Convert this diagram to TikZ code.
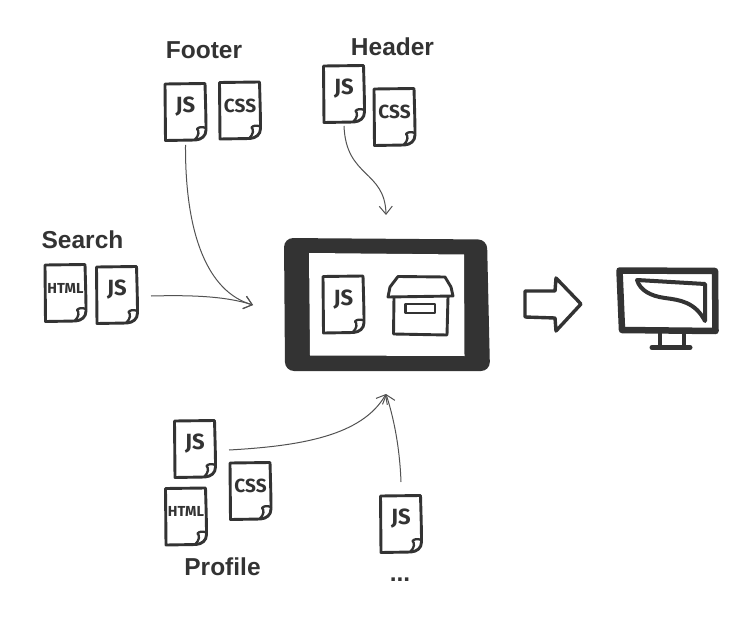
\documentclass[tikz,border=0pt]{standalone}
\usepackage{fontspec}
\setmainfont{Liberation Sans}
\newfontfamily\handfont{Fira Sans}
\usetikzlibrary{arrows.meta}
\definecolor{ink}{HTML}{333333}
\newcommand{\jsfont}{\handfont\bfseries\fontsize{22}{22}\selectfont}
\newcommand{\cssfont}{\handfont\bfseries\fontsize{19}{19}\selectfont}
\newcommand{\htmlfont}{\handfont\bfseries\fontsize{14.5}{14.5}\selectfont}
\tikzset{
  x=1pt,y=-1pt,
  ink line/.style={draw=ink,line width=2.9pt,line cap=round,line join=round},
  flow/.style={draw=ink!85,line width=1pt,-{Straight Barb[length=8pt,width=13pt,line width=1pt]}},
  title/.style={font=\bfseries\fontsize{24.5}{27}\selectfont,text=ink,inner sep=0pt},
  docbody/.style={minimum width=42pt,minimum height=58pt,inner sep=0pt,outer sep=0pt},
  doc/.pic={
    \path[ink line,fill=white] (-20.5,-28) -- (19.5,-28.5) .. controls (20,-10) and (20.5,5) .. (20.5,18)
       .. controls (20.5,24) and (16,27.5) .. (10,28) -- (-20,28.5) -- cycle;
    \path[ink line,line width=2.3pt] (20.5,16) .. controls (16.5,14.5) and (13,15) .. (11.5,17)
       .. controls (14,19) and (13.5,24) .. (9,28);
    \node[docbody,text=ink] (-body) at (0,-5) {\tikzpictext};
  },
}
\begin{document}
\begin{tikzpicture}
\useasboundingbox (0,0) rectangle (754,620);
% documents
\pic[pic text={\jsfont JS}] (footerjs) at (185.5,112) {doc};
\pic[pic text={\cssfont CSS}] (footercss) at (240,110.5) {doc};
\pic[pic text={\jsfont JS}] (headerjs) at (344,94) {doc};
\pic[pic text={\cssfont CSS}] (headercss) at (394.5,117) {doc};
\pic[pic text={\htmlfont HTML}] (searchhtml) at (65.5,293) {doc};
\pic[pic text={\jsfont JS}] (searchjs) at (117,295) {doc};
\pic[pic text={\jsfont JS}] (profilejs) at (195,449) {doc};
\pic[pic text={\cssfont CSS}] (profilecss) at (250.5,491) {doc};
\pic[pic text={\htmlfont HTML}] (profilehtml) at (186,516.5) {doc};
\pic[pic text={\jsfont JS}] (morejs) at (401,524) {doc};
% titles
\node[title] (footertitle) at (204,50) {Footer};
\node[title] (headertitle) at (392.5,47) {Header};
\node[title] (searchtitle) at (82.5,240) {Search};
\node[title] (profiletitle) at (222.5,567) {Profile};
\node[title] (moretitle) at (400,580) {...};
% tablet
\fill[ink,rounded corners=9pt] (284,238) -- (487,239.5) -- (490,371) -- (285,371) -- cycle;
\fill[white] (309,253) -- (464,254.5) -- (464.5,356) -- (310,355.5) -- cycle;
\pic[pic text={\jsfont JS}] (tabletjs) at (343.5,304.5) {doc};
% archive box
\path[ink line,fill=white] (394,297) -- (393.5,334) -- (447,335) -- (448,297);
\path[ink line,fill=white] (388,297) -- (390,287) -- (398,276.5) -- (445,277) -- (451,287) -- (453,296) -- cycle;
\path[ink line] (405.5,304) -- (435,304) -- (435,313) -- (405.5,313) -- cycle;
% big arrow
\path[ink line,line width=3.4pt,fill=white] (525,291) -- (555,291) -- (556,278) -- (581,304) -- (556,331) -- (555,318) -- (525,317) -- cycle;
% monitor
\path[ink line,line width=6.5pt] (619.5,270.5) -- (715,271) -- (715.5,331) -- (622,330) -- cycle;
\path[ink line,line width=4pt] (637,280) -- (705,284) -- (705,321) .. controls (695,302) and (680,300) .. (665,298) .. controls (650,296) and (640,290) .. cycle;
\path[ink line,line width=4pt] (660,333) -- (660,347) (684,333) -- (684,347);
\path[ink line,line width=5pt] (652,347.5) -- (690,347.5);
% connector ends
\coordinate (leftin) at (253,305);
\coordinate (topin) at (386,215);
\coordinate (bottomin) at (386,394);
\draw[flow] ([yshift=-9pt]footerjs-body.south) .. controls (185,235) and (208,292) .. (leftin);
\draw[flow] ([xshift=13pt,yshift=-6pt]searchjs-body.east) .. controls (190,295) and (225,296) .. (leftin);
\draw[flow] ([yshift=-8pt]headerjs-body.south) .. controls (346,178) and (385,170) .. (topin);
\draw[flow] ([xshift=13pt,yshift=-6pt]profilejs-body.east) .. controls (300,446) and (362,436) .. (bottomin);
\draw[flow] ([yshift=8pt]morejs-body.north) .. controls (400,455) and (396,425) .. (bottomin);
\end{tikzpicture}
\end{document}
